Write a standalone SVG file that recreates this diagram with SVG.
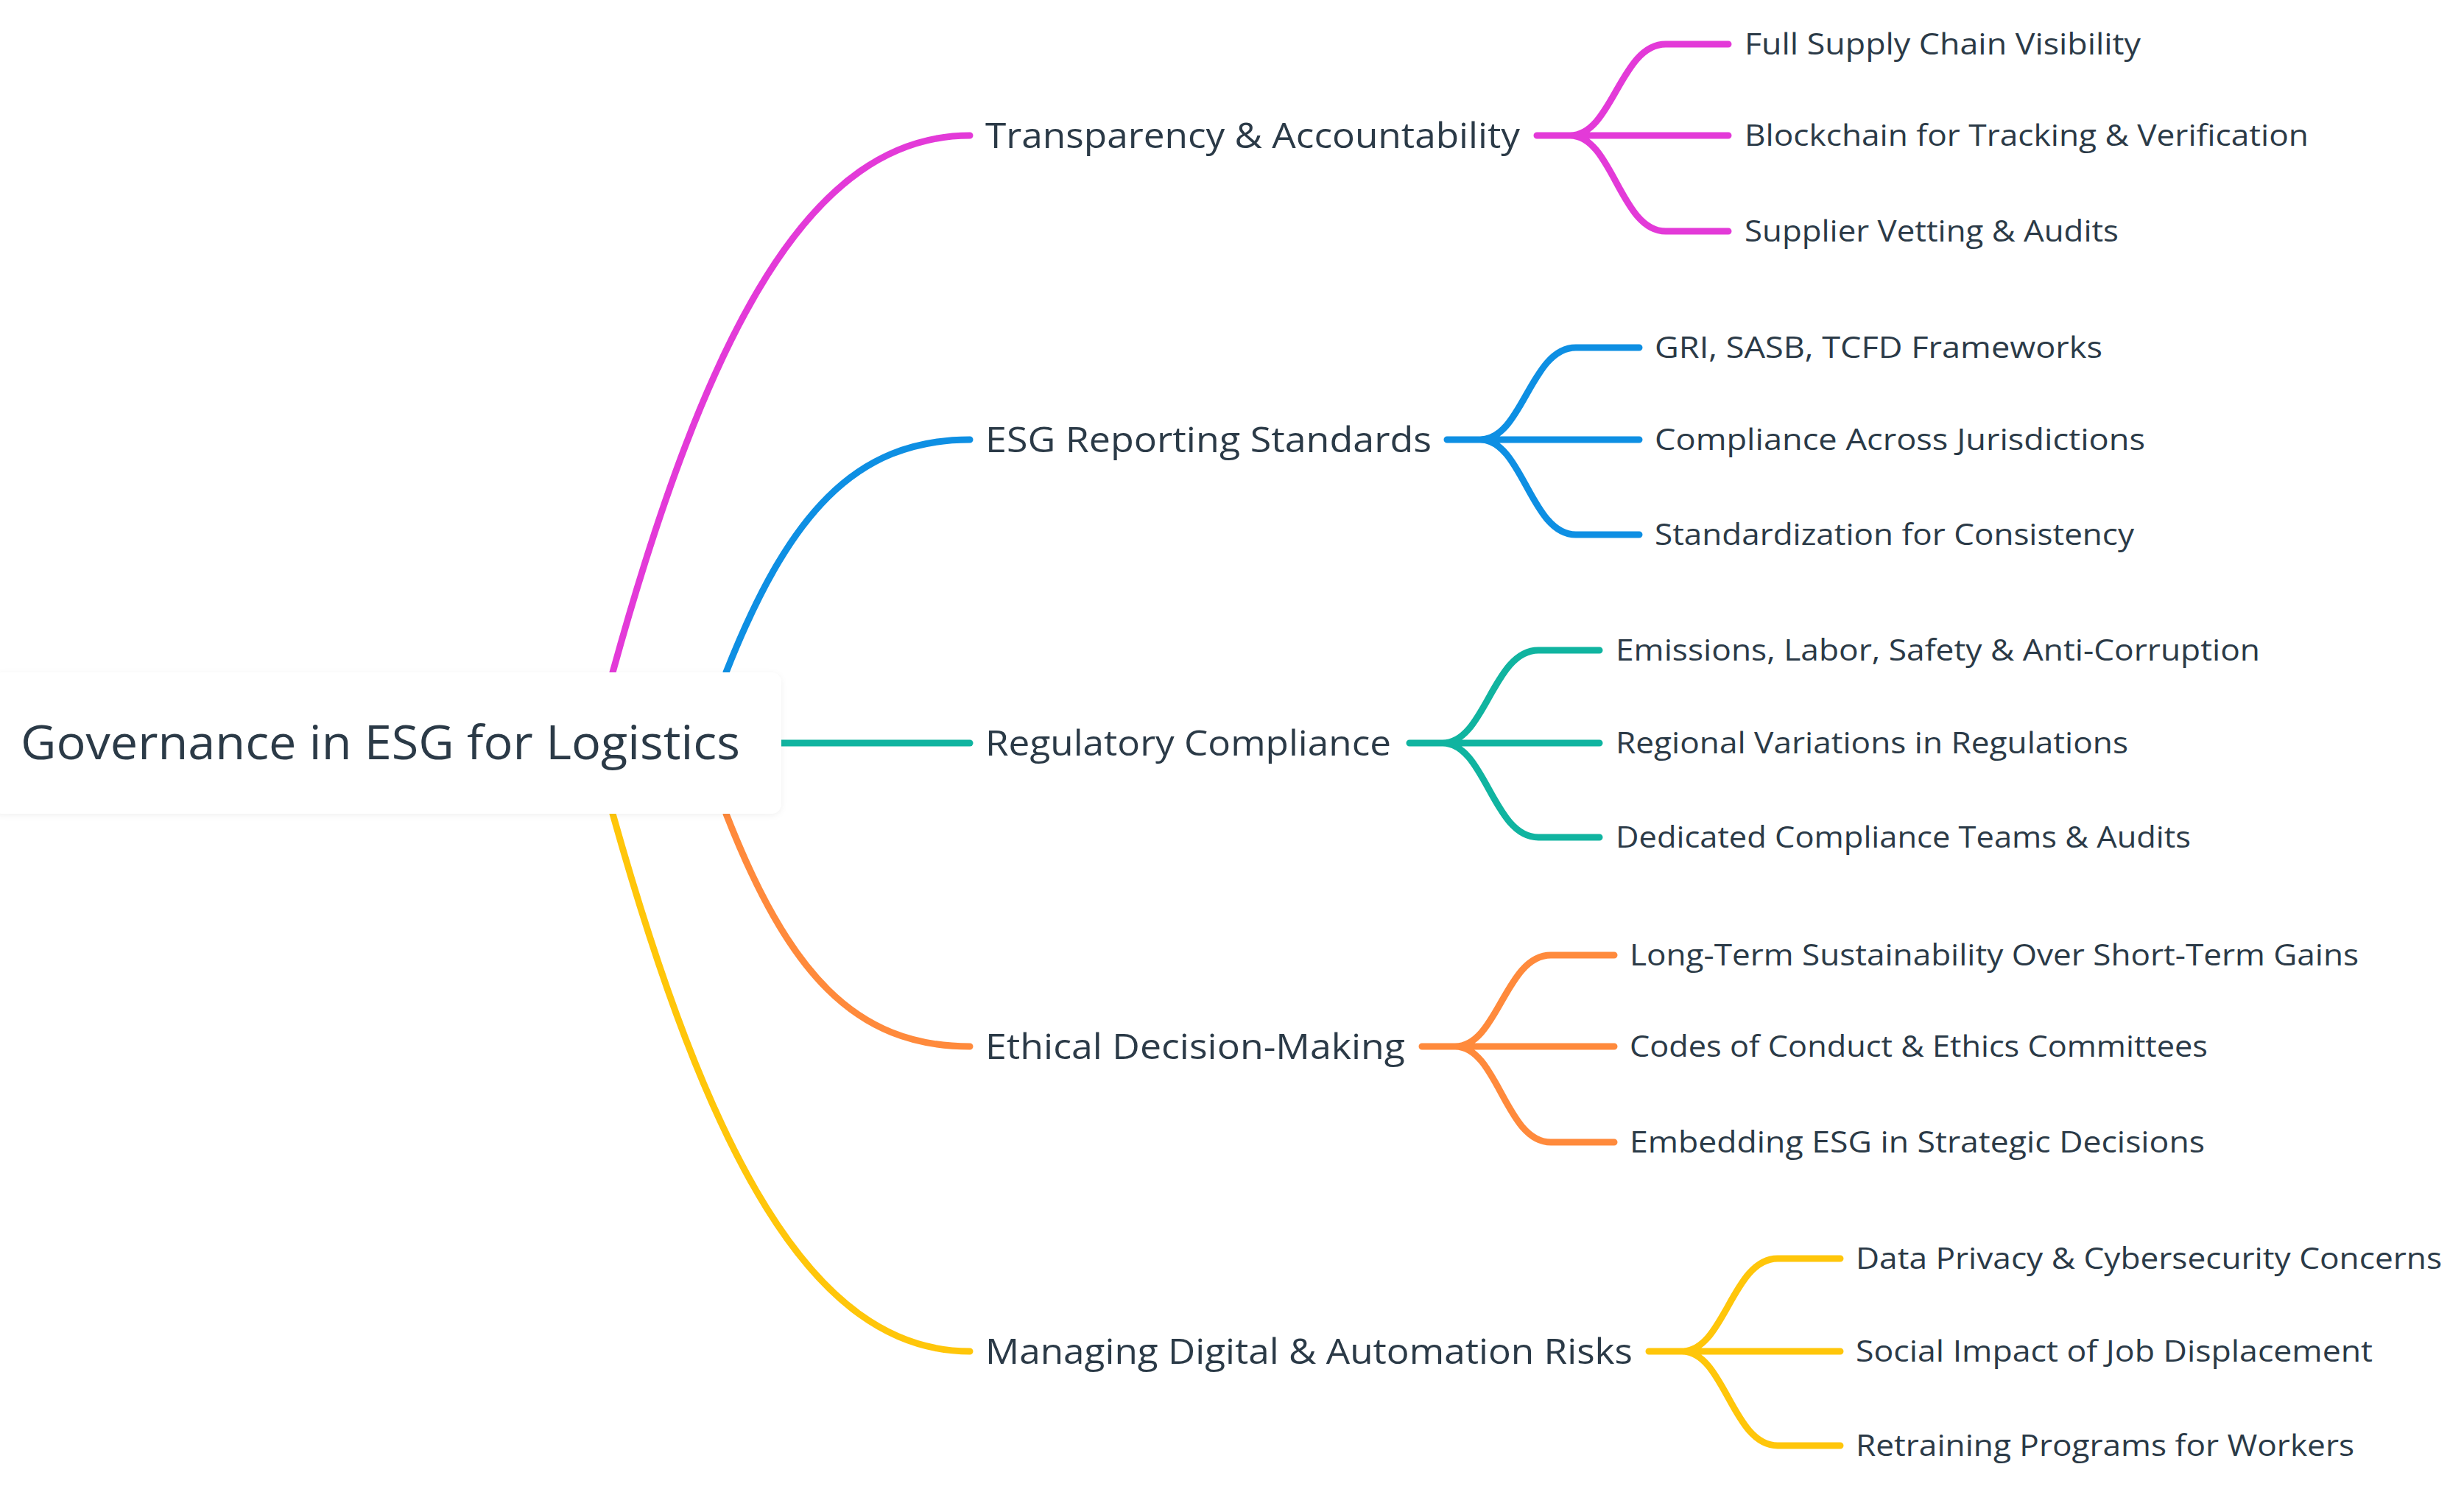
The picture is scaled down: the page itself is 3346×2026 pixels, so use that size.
<svg xmlns="http://www.w3.org/2000/svg" width="3346" height="2026" viewBox="0 0 3346 2026">
<style>
text{font-family:"Open Sans","DejaVu Sans",sans-serif;fill:#2b3a47}
.root{font-size:64px}
.br{font-size:47px}
.lf{font-size:40px}
path{fill:none;stroke-width:9;stroke-linecap:round}
.m{stroke:#e33ad8}.b{stroke:#0e8fe3}.t{stroke:#10b4a0}.o{stroke:#ff8a3c}.y{stroke:#ffc60a}
</style>
<defs><filter id="sh" x="-5%" y="-20%" width="110%" height="140%"><feDropShadow dx="0" dy="2" stdDeviation="4" flood-color="#000" flood-opacity="0.06"/></filter></defs>
<rect width="3346" height="2026" fill="#fff"/>
<g id="connectors">
<path class="m" d="M832 913 C960 450 1100 184 1317 184"/>
<path class="b" d="M986 913 C1070 700 1160 597 1317 597"/>
<path class="t" d="M1061 1009 H1317"/>
<path class="o" d="M986 1105 C1070 1320 1160 1421 1317 1421"/>
<path class="y" d="M832 1105 C960 1560 1100 1835 1317 1835"/>
<path class="m" d="M2087 184 H2347 M2132 184 C2190 184 2200 60 2262 60 H2347 M2132 184 C2190 184 2200 314 2262 314 H2347"/>
<path class="b" d="M1965 597 H2226 M2010 597 C2068 597 2078 472 2140 472 H2226 M2010 597 C2068 597 2078 726 2140 726 H2226"/>
<path class="t" d="M1914 1009 H2172 M1959 1009 C2017 1009 2027 883 2089 883 H2172 M1959 1009 C2017 1009 2027 1137 2089 1137 H2172"/>
<path class="o" d="M1931 1421 H2192 M1976 1421 C2034 1421 2044 1297 2106 1297 H2192 M1976 1421 C2034 1421 2044 1551 2106 1551 H2192"/>
<path class="y" d="M2239 1835 H2499 M2284 1835 C2342 1835 2352 1709 2414 1709 H2499 M2284 1835 C2342 1835 2352 1963 2414 1963 H2499"/>
</g>
<g id="root"><rect x="-10" y="913" width="1071" height="192" rx="14" fill="#fff" filter="url(#sh)"/><text class="root" x="28" y="1031" textLength="977" lengthAdjust="spacingAndGlyphs">Governance in ESG for Logistics</text></g>
<g id="b1"><text class="br" x="1338" y="201" textLength="726" lengthAdjust="spacingAndGlyphs">Transparency &amp; Accountability</text></g>
<g id="b2"><text class="br" x="1338" y="614" textLength="606" lengthAdjust="spacingAndGlyphs">ESG Reporting Standards</text></g>
<g id="b3"><text class="br" x="1338" y="1026" textLength="551" lengthAdjust="spacingAndGlyphs">Regulatory Compliance</text></g>
<g id="b4"><text class="br" x="1338" y="1438" textLength="570" lengthAdjust="spacingAndGlyphs">Ethical Decision-Making</text></g>
<g id="b5"><text class="br" x="1338" y="1852" textLength="879" lengthAdjust="spacingAndGlyphs">Managing Digital &amp; Automation Risks</text></g>
<g id="l1"><text class="lf" x="2369" y="74" textLength="538" lengthAdjust="spacingAndGlyphs">Full Supply Chain Visibility</text></g>
<g id="l2"><text class="lf" x="2369" y="198" textLength="766" lengthAdjust="spacingAndGlyphs">Blockchain for Tracking &amp; Verification</text></g>
<g id="l3"><text class="lf" x="2369" y="328" textLength="508" lengthAdjust="spacingAndGlyphs">Supplier Vetting &amp; Audits</text></g>
<g id="l4"><text class="lf" x="2247" y="486" textLength="608" lengthAdjust="spacingAndGlyphs">GRI, SASB, TCFD Frameworks</text></g>
<g id="l5"><text class="lf" x="2247" y="611" textLength="666" lengthAdjust="spacingAndGlyphs">Compliance Across Jurisdictions</text></g>
<g id="l6"><text class="lf" x="2247" y="740" textLength="651" lengthAdjust="spacingAndGlyphs">Standardization for Consistency</text></g>
<g id="l7"><text class="lf" x="2194" y="897" textLength="875" lengthAdjust="spacingAndGlyphs">Emissions, Labor, Safety &amp; Anti-Corruption</text></g>
<g id="l8"><text class="lf" x="2194" y="1023" textLength="696" lengthAdjust="spacingAndGlyphs">Regional Variations in Regulations</text></g>
<g id="l9"><text class="lf" x="2194" y="1151" textLength="781" lengthAdjust="spacingAndGlyphs">Dedicated Compliance Teams &amp; Audits</text></g>
<g id="l10"><text class="lf" x="2213" y="1311" textLength="990" lengthAdjust="spacingAndGlyphs">Long-Term Sustainability Over Short-Term Gains</text></g>
<g id="l11"><text class="lf" x="2213" y="1435" textLength="785" lengthAdjust="spacingAndGlyphs">Codes of Conduct &amp; Ethics Committees</text></g>
<g id="l12"><text class="lf" x="2213" y="1565" textLength="781" lengthAdjust="spacingAndGlyphs">Embedding ESG in Strategic Decisions</text></g>
<g id="l13"><text class="lf" x="2520" y="1723" textLength="796" lengthAdjust="spacingAndGlyphs">Data Privacy &amp; Cybersecurity Concerns</text></g>
<g id="l14"><text class="lf" x="2520" y="1849" textLength="702" lengthAdjust="spacingAndGlyphs">Social Impact of Job Displacement</text></g>
<g id="l15"><text class="lf" x="2520" y="1977" textLength="677" lengthAdjust="spacingAndGlyphs">Retraining Programs for Workers</text></g>
</svg>
